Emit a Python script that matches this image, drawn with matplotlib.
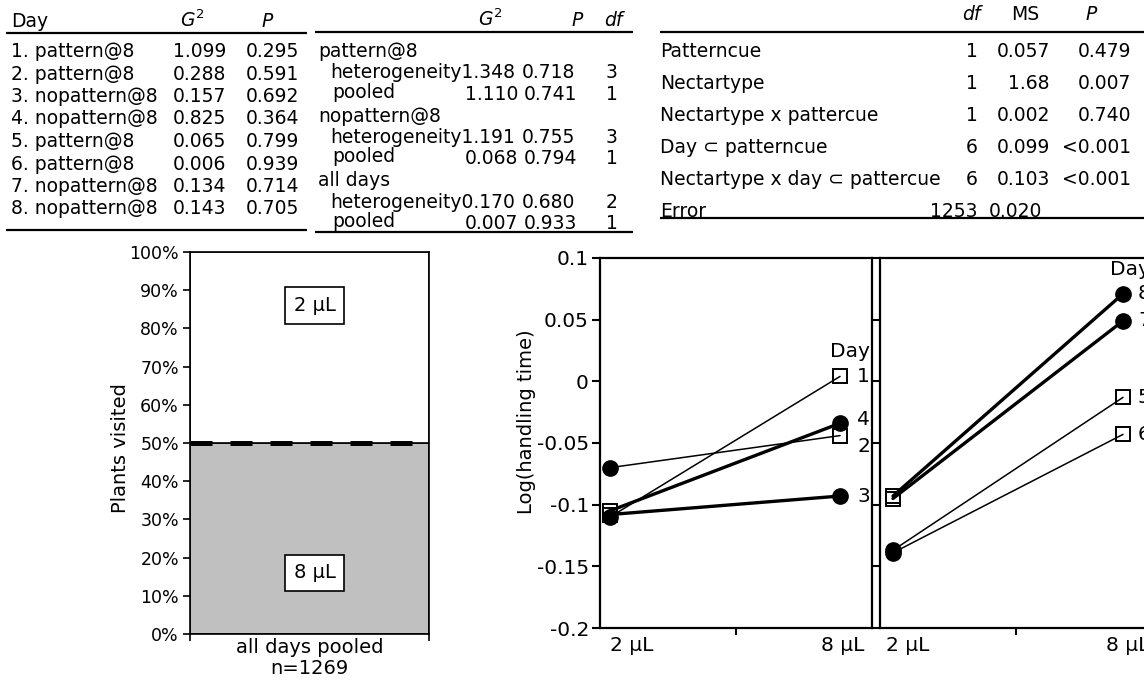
import matplotlib
matplotlib.use('Agg')
import matplotlib.pyplot as plt
from matplotlib.ticker import FixedLocator

plt.rcParams['font.family'] = ['DejaVu Sans']
plt.rcParams['mathtext.fontset'] = 'dejavusans'

# ---------------- data ----------------
day_labels = ['1. pattern@8', '2. pattern@8', '3. nopattern@8', '4. nopattern@8',
              '5. pattern@8', '6. pattern@8', '7. nopattern@8', '8. nopattern@8']
day_g2 = ['1.099', '0.288', '0.157', '0.825', '0.065', '0.006', '0.134', '0.143']
day_p = ['0.295', '0.591', '0.692', '0.364', '0.799', '0.939', '0.714', '0.705']

het_groups = ['pattern@8', 'nopattern@8', 'all days']
het_g2 = ['1.348', '1.191', '0.170']
het_p = ['0.718', '0.755', '0.680']
het_df = ['3', '3', '2']
pooled_g2 = ['1.110', '0.068', '0.007']
pooled_p = ['0.741', '0.794', '0.933']
pooled_df = ['1', '1', '1']

anova_terms = ['Patterncue', 'Nectartype', 'Nectartype x pattercue',
               'Day \u2282 patterncue', 'Nectartype x day \u2282 pattercue', 'Error']
anova_df = ['1', '1', '1', '6', '6', '1253']
anova_ms = ['0.057', '1.68', '0.002', '0.099', '0.103', '0.020']
anova_p = ['0.479', '0.007', '0.740', '<0.001', '<0.001', '']

visit_category = 'all days pooled\nn=1269'
visit_8ul = 49.9
visit_2ul = 50.1
visit_ticks = [0, 10, 20, 30, 40, 50, 60, 70, 80, 90, 100]

volumes = ['2 \u00b5L', '8 \u00b5L']
log_ticks = [-0.2, -0.15, -0.1, -0.05, 0, 0.05, 0.1]
log_ticklabels = ['-0.2', '-0.15', '-0.1', '-0.05', '0', '0.05', '0.1']

days_a = [1, 2, 3, 4]
cue_a = ['pattern', 'pattern', 'nopattern', 'nopattern']
log_a_2ul = [-0.110, -0.070, -0.108, -0.105]
log_a_8ul = [0.004, -0.044, -0.093, -0.034]

days_b = [5, 6, 7, 8]
cue_b = ['pattern', 'pattern', 'nopattern', 'nopattern']
log_b_2ul = [-0.137, -0.139, -0.095, -0.093]
log_b_8ul = [-0.013, -0.043, 0.049, 0.071]

# ---------------- figure ----------------
W, H = 1144, 684
fig = plt.figure(figsize=(W / 100, H / 100), dpi=100)


def px_axes(l, t, r, b):
    return fig.add_axes([l / W, (H - b) / H, (r - l) / W, (b - t) / H])


ov = fig.add_axes([0, 0, 1, 1])
ov.set_xlim(0, W)
ov.set_ylim(H, 0)
ov.axis('off')

TFS = 13.5
CAP = 7  # half cap height in px (baseline offset)

# ----- table 1 -----
ov.text(11, 27, 'Day', fontsize=TFS, va='baseline')
ov.text(180, 27, '$G^2$', fontsize=TFS, va='baseline')
ov.text(262, 27, 'P', fontsize=TFS, va='baseline', style='italic')
ov.plot([6, 307], [33, 33], color='k', lw=1.6, solid_capstyle='butt')
for i, (lab, g, p) in enumerate(zip(day_labels, day_g2, day_p)):
    y = 50 + 22.5 * i + CAP
    ov.text(11, y, lab, fontsize=TFS, va='baseline')
    ov.text(173, y, g, fontsize=TFS, va='baseline')
    ov.text(246, y, p, fontsize=TFS, va='baseline')
ov.plot([6, 307], [230, 230], color='k', lw=1.6, solid_capstyle='butt')

# ----- table 2 -----
ov.text(478, 26, '$G^2$', fontsize=TFS, va='baseline')
ov.text(571, 26, 'P', fontsize=TFS, va='baseline', style='italic')
ov.text(604, 26, 'df', fontsize=TFS, va='baseline', style='italic')
ov.plot([315, 633], [32, 32], color='k', lw=1.6, solid_capstyle='butt')
for g in range(3):
    y0 = 50 + 21.5 * 3 * g + CAP
    ov.text(318, y0, het_groups[g], fontsize=TFS, va='baseline')
    y1 = y0 + 21.5
    ov.text(330, y1, 'heterogeneity' + het_g2[g], fontsize=TFS, va='baseline')
    ov.text(522, y1, het_p[g], fontsize=TFS, va='baseline')
    ov.text(606, y1, het_df[g], fontsize=TFS, va='baseline')
    y2 = y0 + 43
    ov.text(332, y2 - 2, 'pooled', fontsize=TFS, va='baseline')
    ov.text(518, y2, pooled_g2[g], fontsize=TFS, va='baseline', ha='right')
    ov.text(524, y2, pooled_p[g], fontsize=TFS, va='baseline')
    ov.text(606, y2, pooled_df[g], fontsize=TFS, va='baseline')
ov.plot([315, 633], [232, 232], color='k', lw=1.6, solid_capstyle='butt')

# ----- table 3 -----
ov.text(971, 20, 'df', fontsize=TFS, va='baseline', ha='center', style='italic')
ov.text(1025, 20, 'MS', fontsize=TFS, va='baseline', ha='center')
ov.text(1091, 20, 'P', fontsize=TFS, va='baseline', ha='center', style='italic')
ov.plot([660, 1144], [32, 32], color='k', lw=1.6, solid_capstyle='butt')
for i, (t, d, ms, p) in enumerate(zip(anova_terms, anova_df, anova_ms, anova_p)):
    y = 50 + 32 * i + CAP
    ov.text(660, y, t, fontsize=TFS, va='baseline')
    ov.text(978, y, d, fontsize=TFS, va='baseline', ha='right')
    ov.text(1050 if p else 1042, y, ms, fontsize=TFS, va='baseline', ha='right')
    ov.text(1131, y, p, fontsize=TFS, va='baseline', ha='right')
ov.plot([660, 1144], [218, 218], color='k', lw=1.6, solid_capstyle='butt')

# ----- bar chart -----
axb = px_axes(190, 252, 429, 634)
axb.bar(0, visit_8ul, width=1, color='#c0c0c0', edgecolor='black', lw=1.2, zorder=2)
axb.bar(0, visit_2ul, bottom=visit_8ul, width=1, color='white', edgecolor='black', lw=1.2, zorder=2)
axb.axhline(50, color='black', lw=3.6, dashes=(4.4, 3.6), zorder=3)
axb.set_xlim(-0.5, 0.5)
axb.set_ylim(0, 100)
axb.set_yticks(visit_ticks)
axb.set_yticklabels([f'{v}%' for v in visit_ticks], fontsize=12.5)
axb.set_xticks([0])
axb.set_xticklabels([visit_category], fontsize=14, linespacing=1.15)
axb.tick_params(axis='x', which='major', length=0, pad=3)
axb.xaxis.set_minor_locator(FixedLocator([-0.5, 0.5]))
axb.tick_params(axis='x', which='minor', length=5, width=1.2, direction='out')
axb.tick_params(axis='y', length=5, width=1.2, direction='out', pad=3)
for s in axb.spines.values():
    s.set_linewidth(1.2)
axb.set_ylabel('Plants visited', fontsize=14)
axb.yaxis.set_label_coords(-0.25, 0.487)
box = dict(boxstyle='square,pad=0.45', fc='white', ec='black', lw=1.2)
axb.text(0.021, 86, '2 \u00b5L', ha='center', va='center', fontsize=14, bbox=box, zorder=5)
axb.text(0.021, 16, '8 \u00b5L', ha='center', va='center', fontsize=14, bbox=box, zorder=5)


# ----- line charts -----
def draw_panel(ax, days, cues, v2, v8, xlim, xlab_pos, labels_left):
    for d, c, a, b in zip(days, cues, v2, v8):
        lw = 1.1 if c == 'pattern' else 2.4
        ax.plot([0, 1], [a, b], color='k', lw=lw, zorder=2, solid_capstyle='round')
        if c == 'pattern':
            circ, sq = (0, a), (1, b)
        else:
            circ, sq = (1, b), (0, a)
        ax.plot(*sq, marker='s', ms=10, mfc='none', mec='k', mew=1.4, ls='none', zorder=3)
        ax.plot(*circ, marker='o', ms=11, color='k', ls='none', zorder=4)
    ax.set_xlim(*xlim)
    ax.set_ylim(-0.2, 0.1)
    ax.set_yticks(log_ticks)
    if labels_left:
        ax.set_yticklabels(log_ticklabels, fontsize=14.5)
    else:
        ax.set_yticklabels([])
    ax.tick_params(axis='y', length=6, width=1.5, direction='out', pad=2)
    ax.set_xticks(xlab_pos)
    ax.set_xticklabels(volumes, fontsize=14.5)
    ax.tick_params(axis='x', which='major', length=0, pad=6)
    ax.xaxis.set_minor_locator(FixedLocator([(xlim[0] + xlim[1]) / 2]))
    ax.tick_params(axis='x', which='minor', length=5, width=1.5, direction='out')
    for s in ax.spines.values():
        s.set_linewidth(1.6)


axm = px_axes(600, 258, 872, 628)
draw_panel(axm, days_a, cue_a, log_a_2ul, log_a_8ul, (-0.0435, 1.139), [0.096, 1.01], True)
axm.set_ylabel('Log(handling time)', fontsize=14)
axm.yaxis.set_label_coords(-0.235, 0.557)
axm.text(1.043, 0.024, 'Day', ha='center', va='center', fontsize=14.5)
label_shift_a = [0.0, -0.009, 0.0, 0.003]
for d, v, s in zip(days_a, log_a_8ul, label_shift_a):
    axm.text(1.074, v + s, str(d), ha='left', va='center', fontsize=14.5)

axr = px_axes(880, 258, 1152, 628)
draw_panel(axr, days_b, cue_b, log_b_2ul, log_b_8ul, (-0.0565, 1.126), [0.065, 1.02], False)
axr.text(1.03, 0.0905, 'Day', ha='center', va='center', fontsize=14.5, clip_on=False)
for d, v in zip(days_b, log_b_8ul):
    axr.text(1.065, v, str(d), ha='left', va='center', fontsize=14.5, clip_on=False)

fig.savefig('out.png', dpi=100)
